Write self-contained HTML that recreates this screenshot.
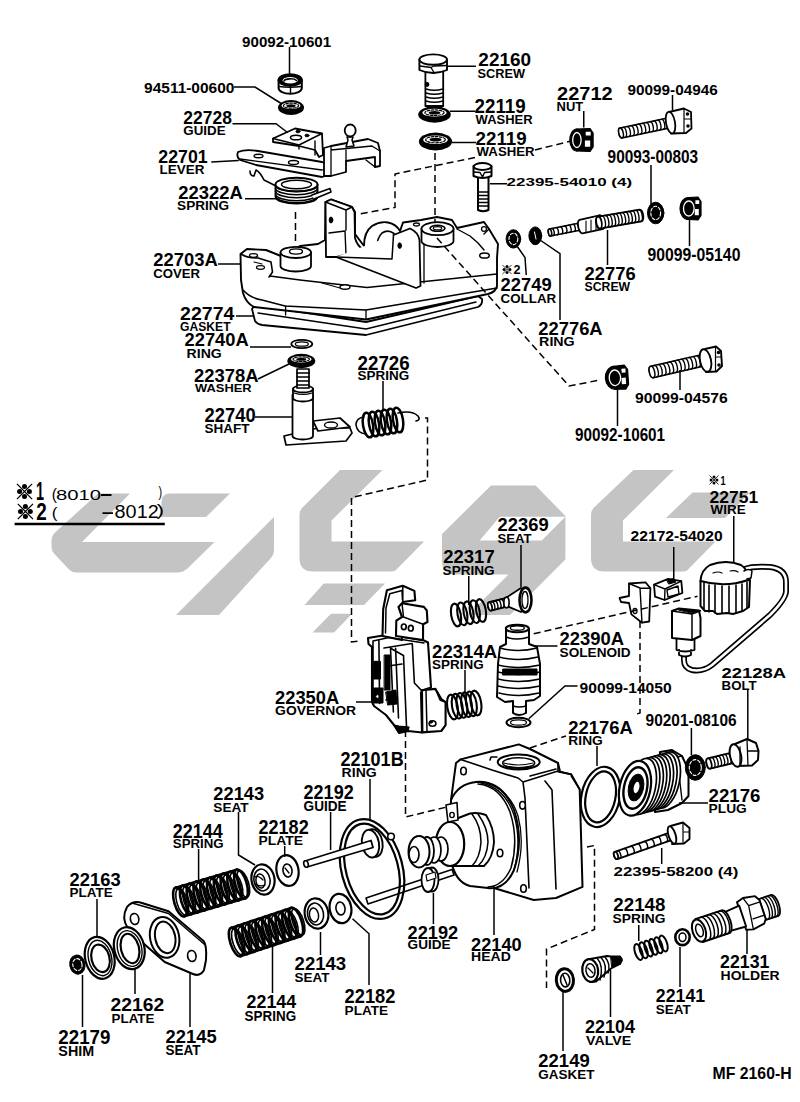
<!DOCTYPE html>
<html><head><meta charset="utf-8"><title>Parts diagram</title>
<style>html,body{margin:0;padding:0;background:#fff;width:800px;height:1102px;overflow:hidden}svg{display:block}</style>
</head><body>
<svg width="800" height="1102" viewBox="0 0 800 1102">
<rect width="800" height="1102" fill="#fff"/>
<g fill="#c4c4c4" stroke="none">
<path d="M98,493.5 L130,493.5 L82,542 L214.5,542 L189,567 Q184,572.5 177,572.5 L76,572.5 Q72,572.5 69,569.5 L54.5,554 Q51.5,551 51.5,547 L51.5,540 Q51.5,536 54.5,533 Z"/>
<path d="M170,493.5 L230,493.5 L206,517 L161.5,517 L161.5,502 Q161.5,493.5 170,493.5 Z"/>
<path d="M274,517 L274,550 Q274,555 270,559 L219,615 L176,615 Z"/>
<path d="M340,470 L382.5,470 L331.5,520.5 L331.5,541.5 L424,541.5 L396,570 Q394,571.5 391,571.5 L313,571.5 Q299.5,571.5 299.5,558 L299.5,514 Q299.5,511 302,508 Z"/>
<path d="M323.75,583.5 L385,583.5 L364,605 L304.5,605 Z"/>
<path d="M331,613.75 L352,613.75 L334,632.5 L312.5,632.5 Z"/>
<path fill-rule="evenodd" d="M491,485.6 L535.6,485.6 L565.4,515.9 L565.4,559.6 L510,615 L468,615 L508.5,574.5 L455,574.5 Q442,574.5 442,561 L442,534 Z M499.75,516.75 L565.4,516.75 L541.75,540.4 L479.6,540.4 Z"/>
<path transform="translate(291.5,0)" d="M342,470 L382.5,470 L331.5,520.5 L331.5,541.5 L424,541.5 L396,570 Q394,571.5 391,571.5 L313,571.5 Q299.5,571.5 299.5,558 L299.5,514 Q299.5,511 302,508 Z"/>
<path d="M692.5,492.5 L750,492.5 L725,518 L666,518 Z"/>
</g>
<g fill="#fff" stroke="#000" stroke-width="1.6" stroke-linejoin="round" stroke-linecap="round">
<path d="M278.6,80 V88 A11.6,5.8 0 0 0 301.8,88 V80" stroke-width="2"/>
<ellipse cx="290.2" cy="80.0" rx="11.6" ry="5.8" fill="#000" stroke-width="2"/>
<ellipse cx="290.2" cy="80.3" rx="7.5" ry="3.2" fill="#fff" stroke="none"/>
<path d="M284,81 A6.5,2.6 0 0 1 296.5,80.5" fill="none" stroke-width="1.6"/>
<path d="M279,86.5 Q290,88 301.5,86.5 M290.5,86 V93" fill="none" stroke-width="1.4"/>
<g><ellipse cx="291.0" cy="107.5" rx="13.0" ry="7.5" fill="#000" stroke="none"/><ellipse cx="291.0" cy="105.7" rx="9.5" ry="3.4" fill="#fff" stroke="none"/><ellipse cx="291.0" cy="105.7" rx="7.6" ry="2.5" fill="none" stroke-width="1.2" stroke-dasharray="2.5,1.5"/><ellipse cx="291.0" cy="105.7" rx="4.6" ry="1.5" fill="#000" stroke="none"/></g>
<path d="M425.4,70 V106 H443.2 V70" stroke-width="1.8"/>
<path d="M426,89 Q434,91.5 443,89 M426,93 Q434,95.5 443,93 M426,97 Q434,99.5 443,97 M426,101 Q434,103.5 443,101" fill="none" stroke-width="1.4"/>
<path d="M419.4,59.6 V70 Q433,76 447,70 V59.6" stroke-width="1.9"/>
<ellipse cx="433.2" cy="59.6" rx="13.8" ry="5.2" stroke-width="1.9"/>
<path d="M420,66 L431,67.5 L434.5,73.5 M431,67.5 L434,66 L447,65.5" fill="none" stroke-width="1.3"/>
<circle cx="427" cy="84.5" r="1.6" fill="#000"/>
<g><ellipse cx="434.5" cy="114.5" rx="16.3" ry="8.3" fill="#000" stroke="none"/><ellipse cx="434.5" cy="112.7" rx="12.1" ry="3.9" fill="#fff" stroke="none"/><ellipse cx="434.5" cy="112.7" rx="9.6" ry="2.8" fill="none" stroke-width="1.2" stroke-dasharray="2.5,1.5"/><ellipse cx="434.5" cy="112.7" rx="5.9" ry="1.8" fill="#000" stroke="none"/></g>
<g><ellipse cx="435.5" cy="141.5" rx="16.6" ry="8.9" fill="#000" stroke="none"/><ellipse cx="435.5" cy="139.7" rx="12.3" ry="4.3" fill="#fff" stroke="none"/><ellipse cx="435.5" cy="139.7" rx="9.8" ry="3.1" fill="none" stroke-width="1.2" stroke-dasharray="2.5,1.5"/><ellipse cx="435.5" cy="139.7" rx="6.0" ry="1.9" fill="#000" stroke="none"/></g>
<g transform="rotate(0 576.6 140.0)"><path d="M576.6,129.0 L590.1,128.5 L593.1,133.0 L593.1,147.0 L590.1,151.5 L576.6,151.0 Z" fill="#000" stroke="#000" stroke-width="1.2"/><ellipse cx="576.6" cy="140.0" rx="6.8" ry="11.0" fill="#000" stroke="#000" stroke-width="1.2"/><ellipse cx="576.9" cy="140.0" rx="4.2" ry="7.5" fill="none" stroke="#fff" stroke-width="1.3"/><path d="M585.7,131.8 h5.0 v3.8 h-5.0 Z M584.9,140.6 h5.3 v6.1 h-5.3 Z" fill="#fff" stroke="none"/></g>
<g transform="translate(621.0,133.0) rotate(-11.86)"><path d="M0,-5.0 L51.1,-5.0 A2.2,5.0 0 0 1 51.1,5.0 L0,5.0 A2.2,5.0 0 0 1 0,-5.0 Z" stroke-width="1.5"/><ellipse cx="0" cy="0" rx="2.2" ry="5.0" stroke-width="1.5"/><path d="M3.2,-5.0 A2.2,5.0 0 0 1 3.2,5.0 M7.2,-5.0 A2.2,5.0 0 0 1 7.2,5.0 M11.1,-5.0 A2.2,5.0 0 0 1 11.1,5.0 M15.0,-5.0 A2.2,5.0 0 0 1 15.0,5.0 M18.9,-5.0 A2.2,5.0 0 0 1 18.9,5.0 M22.8,-5.0 A2.2,5.0 0 0 1 22.8,5.0 M26.7,-5.0 A2.2,5.0 0 0 1 26.7,5.0 M30.6,-5.0 A2.2,5.0 0 0 1 30.6,5.0 M34.5,-5.0 A2.2,5.0 0 0 1 34.5,5.0 M38.4,-5.0 A2.2,5.0 0 0 1 38.4,5.0 M42.3,-5.0 A2.2,5.0 0 0 1 42.3,5.0 M46.2,-5.0 A2.2,5.0 0 0 1 46.2,5.0 M50.1,-5.0 A2.2,5.0 0 0 1 50.1,5.0 " fill="none" stroke-width="1.4"/></g>
<path d="M669,112 L684,108.5 L691,112 L691.5,128.5 L686,133 L671,133.5" stroke-width="1.8"/>
<ellipse cx="670.5" cy="122.6" rx="4.5" ry="11.0" transform="rotate(-10 670.5 122.6)" stroke-width="1.8"/>
<path d="M684,108.7 V133 M684,119 H691" fill="none" stroke-width="1.2"/>
<circle cx="687.5" cy="114" r="1" fill="#000"/><circle cx="688" cy="126" r="1" fill="#000"/>
<path d="M252,309 L255,321 Q257,324 262,325 L366,335 L478,307 Q483,304 482,299 L478,296 L366,322 L255,305 Z" stroke-width="1.8"/>
<path d="M258,313 L366,329 L476,302" fill="none" stroke-width="1.4"/>
<path d="M240.5,254 L247,249 L266,250 L282,256.5 L300,246 L318,244 L325,240 L325.5,202 L331,199.5 L352,207 L355,212 L355,234 L364,246 Q364,232 372,226 Q380,221 388,222.5 Q396,224 400,231 L403,222.5 L421,220 L437,217 L452,220 L457,228 L484,222 L489,229 L498,244 L497,258 L497,286 Q496,292 488,294 L366,319.5 L254,307 Q246,303 243,293 L241,280 Z" stroke-width="1.9"/>
<path d="M241,254 Q247,258 258,258 L271,262 L272.5,272 L269,277 M270,276 L300,280 L335,284 L367,287.5 L497,274" fill="none" stroke-width="1.6"/>
<path d="M243,290 Q250,298 262,300 L285,306 L366,310 L497,288" fill="none" stroke-width="1.6"/>
<path d="M285.6,306 V315 M366,310 V319" fill="none" stroke-width="1.3"/>
<ellipse cx="253.5" cy="255.5" rx="4.0" ry="1.8" stroke-width="1.3"/>
<ellipse cx="260.5" cy="267.5" rx="4.0" ry="1.8" stroke-width="1.3"/>
<path d="M254,262 L262,264" fill="none" stroke-width="1.2"/>
<path d="M325.5,202 L331,199.5 L352,207 L354.5,212 L355,238 Q357,246 364,250 L336,257 L326,257 Z" stroke-width="1.8"/>
<path d="M325.5,202 L346,210 L352,207 M346,210 L346,230 M329,233 L345,231 L346,255" fill="none" stroke-width="1.4"/>
<ellipse cx="331.0" cy="220.0" rx="1.8" ry="3.0" fill="#000" stroke-width="1"/>
<path d="M377,247 Q377,238 382,233 Q388,229 394,233.5" fill="none" stroke-width="1.6"/>
<ellipse cx="416.5" cy="224.5" rx="3.0" ry="1.5" stroke-width="1.3"/>
<path d="M393.5,235 L410,228.5 Q418,232 419.5,240 L420.5,286 L416,288 L336,257" stroke-width="1.8"/>
<path d="M393.5,235 L392,259 L336,257" fill="none" stroke-width="1.5"/>
<ellipse cx="399.7" cy="245.6" rx="1.8" ry="2.8" fill="#000" stroke-width="1"/>
<path d="M424,238 V283" fill="none" stroke-width="1.3"/>
<path d="M280.5,252.4 V266 A15.2,5.5 0 0 0 311,266 V252.4" stroke-width="1.8"/>
<ellipse cx="295.8" cy="252.4" rx="15.2" ry="5.6" stroke-width="1.8"/>
<ellipse cx="296.0" cy="251.5" rx="6.5" ry="2.6" stroke-width="1.4"/>
<path d="M421.5,228.7 V241 A16,6 0 0 0 453.5,241 V228.7" stroke-width="1.8"/>
<ellipse cx="437.5" cy="228.7" rx="16.0" ry="6.5" stroke-width="1.8"/>
<ellipse cx="437.5" cy="228.3" rx="7.5" ry="3.0" stroke-width="1.6"/>
<ellipse cx="437.5" cy="228.3" rx="4.2" ry="1.6" stroke-width="1.2"/>
<path d="M457,229 L470,236 L478,243 L484,250 M489,229 L484,234" fill="none" stroke-width="1.4"/>
<ellipse cx="484.5" cy="255.5" rx="4.8" ry="2.6" stroke-width="1.5"/>
<ellipse cx="484.0" cy="229.0" rx="2.5" ry="2.3" stroke-width="1.3"/>
<ellipse cx="257.5" cy="257.0" rx="0.1" ry="0.1"/>
<ellipse cx="345.0" cy="287.0" rx="5.0" ry="2.2" stroke-width="1.4"/>
<path d="M322,283 L340,288" fill="none" stroke-width="1.2"/>
<ellipse cx="301.8" cy="344.0" rx="10.5" ry="4.2" stroke-width="1.8"/>
<ellipse cx="301.8" cy="344.0" rx="6.5" ry="2.2" stroke-width="1.3"/>
<g><ellipse cx="301.3" cy="361.0" rx="14.0" ry="7.2" fill="#000" stroke="none"/><ellipse cx="301.3" cy="359.2" rx="10.3" ry="3.2" fill="#fff" stroke="none"/><ellipse cx="301.3" cy="359.2" rx="8.2" ry="2.3" fill="none" stroke-width="1.2" stroke-dasharray="2.5,1.5"/><ellipse cx="301.3" cy="359.2" rx="5.0" ry="1.5" fill="#000" stroke="none"/></g>
<path d="M284,436 L286,445 L346,441 L352,433 L350,428 L318,428 Z" stroke-width="1.7"/>
<path d="M313,421 L340,418 L350,427 L318,431 Z" stroke-width="1.7"/>
<ellipse cx="331.0" cy="425.0" rx="6.5" ry="3.0" stroke-width="1.4"/>
<path d="M292.5,395 V436 A10.2,3.5 0 0 0 313,436 V395" stroke-width="1.8"/>
<path d="M293,389 V398 A10,3.5 0 0 0 313,398 V389" stroke-width="1.8"/>
<ellipse cx="303.0" cy="389.0" rx="10.0" ry="3.5" stroke-width="1.8"/>
<path d="M297,369 V388 H309 V369 Z" stroke-width="1.7"/>
<path d="M297,373 H309 M297,377 H309 M297,381 H309 M297,385 H309" fill="none" stroke-width="1.5"/>
<path d="M294,393 Q303,396 312,393" fill="none" stroke-width="1.2"/>
<g transform="translate(368.0,425.0) rotate(-9.46)"><ellipse cx="0.0" cy="0" rx="5.0" ry="12.5" fill="none" stroke-width="2.5"/><ellipse cx="6.1" cy="0" rx="5.0" ry="12.5" fill="none" stroke-width="2.5"/><ellipse cx="12.2" cy="0" rx="5.0" ry="12.5" fill="none" stroke-width="2.5"/><ellipse cx="18.2" cy="0" rx="5.0" ry="12.5" fill="none" stroke-width="2.5"/><ellipse cx="24.3" cy="0" rx="5.0" ry="12.5" fill="none" stroke-width="2.5"/><ellipse cx="30.4" cy="0" rx="5.0" ry="12.5" fill="none" stroke-width="2.5"/></g>
<path d="M398,413 Q412,410 418,416 Q421,420 416,421" fill="none" stroke-width="1.6"/>
<path d="M364,417 Q356,418 356,425 Q357,433 366,434" fill="none" stroke-width="1.6"/>
<path d="M250,171 Q250,176 254,176 L256,170 Q260,172 264,180 L276,186" fill="none" stroke-width="1.6"/>
<path d="M275.5,184.5 V196 A21,6.8 0 0 0 317.5,196 V184.5 Z" fill="#fff" stroke-width="1.8"/>
<path d="M275.5,185 A21,6.8 0 0 0 317.5,185" fill="none" stroke-width="1.6"/>
<path d="M275.5,188 A21,6.8 0 0 0 317.5,188" fill="none" stroke-width="1.6"/>
<path d="M275.5,191 A21,6.8 0 0 0 317.5,191" fill="none" stroke-width="1.6"/>
<path d="M275.5,194 A21,6.8 0 0 0 317.5,194" fill="none" stroke-width="1.6"/>
<path d="M275.5,197 A21,6.8 0 0 0 317.5,197" fill="none" stroke-width="1.6"/>
<ellipse cx="296.5" cy="184.5" rx="21.0" ry="6.8" fill="#fff" stroke-width="1.9"/>
<ellipse cx="296.5" cy="184.5" rx="15.0" ry="4.2" fill="none" stroke-width="1.4"/>
<path d="M312,195 L330,188.5 L331,192 L314,199" stroke-width="1.5"/>
<path d="M238,152 Q236,157 240,160 L256,165 L322,177 L329,175 L329,165 L322,162 L258,151 Q245,149 238,152 Z" stroke-width="1.8"/>
<path d="M240,159 L322,170 L329,168" fill="none" stroke-width="1.3"/>
<ellipse cx="258.5" cy="156.0" rx="4.5" ry="1.8" stroke-width="1.4"/>
<ellipse cx="293.5" cy="162.5" rx="5.0" ry="2.0" stroke-width="1.4"/>
<path d="M324,176 L324,148 L331,146 L368,139 L378,143 L380,151 L380,166 L375,167 L375,157 L346,161 L346,172 L331,176 Z" stroke-width="1.8"/>
<path d="M331,146 L331,176 M331,150 L372,146 L380,151 M346,161 L346,150 M366,160 L375,167" fill="none" stroke-width="1.3"/>
<path d="M346,147 L348,140 L347,137 L353,137 L352,140 L354,146 Z" stroke-width="1.5"/>
<ellipse cx="350.2" cy="130.5" rx="5.5" ry="6.0" stroke-width="1.8"/>
<path d="M273,138.5 L295,128.5 L322,133.5 L323,155 L319,157 L315,150 L299,146 L273,142 Z" stroke-width="1.8"/>
<path d="M273,138.5 L299,145 L322,133.5 M299,145 L299,149 M315,141 L315,155" fill="none" stroke-width="1.4"/>
<ellipse cx="296.0" cy="137.5" rx="5.5" ry="2.3" stroke-width="1.6"/>
<ellipse cx="298.0" cy="131.5" rx="2.0" ry="1.3" fill="#000" stroke-width="1"/>
<ellipse cx="307.0" cy="135.5" rx="2.0" ry="1.3" fill="#000" stroke-width="1"/>
<path d="M478,176 V210 Q483,212.5 488.5,210 V176" stroke-width="2"/>
<path d="M478.5,192 H488 M478.5,195.5 H488 M478.5,199 H488 M478.5,202.5 H488 M478.5,206 H488" fill="none" stroke-width="1.5"/>
<path d="M473.5,166 V176 Q482.5,180 491.5,176 V166" stroke-width="2"/>
<ellipse cx="482.5" cy="166.5" rx="8.8" ry="3.4" stroke-width="2"/>
<path d="M474,172 L480,172.5 L482.5,177 M482.5,177 L484.5,172.5 L491,172" fill="none" stroke-width="1.4"/>
<ellipse cx="655.7" cy="213.0" rx="8.2" ry="10.8" fill="#000" stroke="#000" stroke-width="1"/><ellipse cx="655.7" cy="213.0" rx="4.9" ry="6.7" fill="none" stroke="#fff" stroke-width="1.1" stroke-dasharray="3,2"/>
<g transform="rotate(0 688.5 208.5)"><path d="M688.5,197.5 L698.0,197.0 L701.0,201.5 L701.0,215.5 L698.0,220.0 L688.5,219.5 Z" fill="#000" stroke="#000" stroke-width="1.2"/><ellipse cx="688.5" cy="208.5" rx="8.5" ry="11.0" fill="#000" stroke="#000" stroke-width="1.2"/><ellipse cx="688.8" cy="208.5" rx="5.3" ry="7.5" fill="none" stroke="#fff" stroke-width="1.3"/><path d="M695.4,200.2 h3.8 v3.8 h-3.8 Z M694.8,209.1 h4.0 v6.1 h-4.0 Z" fill="#fff" stroke="none"/></g>
<ellipse cx="513.4" cy="238.9" rx="7.3" ry="9.2" fill="#000" stroke="#000" stroke-width="1"/><ellipse cx="513.4" cy="238.9" rx="4.4" ry="5.7" fill="none" stroke="#fff" stroke-width="1.1" stroke-dasharray="3,2"/>
<ellipse cx="535.3" cy="235.8" rx="6.4" ry="8.9" fill="#000" stroke="#000" stroke-width="1"/>
<path d="M534.5,232 L536,239" fill="none" stroke="#fff" stroke-width="1"/>
<g transform="translate(550.0,232.5) rotate(-11.14)"><path d="M0,-3.6 L33.6,-3.6 A1.6,3.6 0 0 1 33.6,3.6 L0,3.6 A1.6,3.6 0 0 1 0,-3.6 Z" stroke-width="1.6"/><ellipse cx="0" cy="0" rx="1.6" ry="3.6" stroke-width="1.6"/><path d="M2.6,-3.6 A1.6,3.6 0 0 1 2.6,3.6 M6.9,-3.6 A1.6,3.6 0 0 1 6.9,3.6 M11.2,-3.6 A1.6,3.6 0 0 1 11.2,3.6 M15.5,-3.6 A1.6,3.6 0 0 1 15.5,3.6 M19.8,-3.6 A1.6,3.6 0 0 1 19.8,3.6 M24.1,-3.6 A1.6,3.6 0 0 1 24.1,3.6 M28.3,-3.6 A1.6,3.6 0 0 1 28.3,3.6 M32.6,-3.6 A1.6,3.6 0 0 1 32.6,3.6 " fill="none" stroke-width="1.4"/></g>
<g transform="translate(581.0,226.6) rotate(-12.13)"><path d="M0,-7.0 L20.457028132160346,-7.0 A2.8000000000000003,7.0 0 0 1 20.457028132160346,7.0 L0,7.0 A2.8000000000000003,7.0 0 0 1 0,-7.0 Z" stroke-width="1.8" fill="#fff"/><ellipse cx="20.457028132160346" cy="0" rx="2.8000000000000003" ry="7.0" stroke-width="1.8" fill="#fff"/></g>
<g transform="translate(599.0,222.6) rotate(-9.71)"><path d="M0,-6.0 L42.1,-6.0 A2.7,6.0 0 0 1 42.1,6.0 L0,6.0 A2.7,6.0 0 0 1 0,-6.0 Z" stroke-width="1.8"/><ellipse cx="0" cy="0" rx="2.7" ry="6.0" stroke-width="1.8"/><path d="M3.7,-6.0 A2.7,6.0 0 0 1 3.7,6.0 M7.1,-6.0 A2.7,6.0 0 0 1 7.1,6.0 M10.5,-6.0 A2.7,6.0 0 0 1 10.5,6.0 M13.9,-6.0 A2.7,6.0 0 0 1 13.9,6.0 M17.3,-6.0 A2.7,6.0 0 0 1 17.3,6.0 M20.7,-6.0 A2.7,6.0 0 0 1 20.7,6.0 M24.1,-6.0 A2.7,6.0 0 0 1 24.1,6.0 M27.5,-6.0 A2.7,6.0 0 0 1 27.5,6.0 M30.9,-6.0 A2.7,6.0 0 0 1 30.9,6.0 M34.3,-6.0 A2.7,6.0 0 0 1 34.3,6.0 M37.7,-6.0 A2.7,6.0 0 0 1 37.7,6.0 M41.1,-6.0 A2.7,6.0 0 0 1 41.1,6.0 " fill="none" stroke-width="1.4"/></g>
<path d="M586,221 V232 M591,220 V231 M596,219 V230" fill="none" stroke-width="1.1"/>
<g transform="rotate(-4 614.6 377.8)"><path d="M614.6,366.3 L625.1,365.8 L628.1,370.3 L628.1,385.3 L625.1,389.8 L614.6,389.3 Z" fill="#000" stroke="#000" stroke-width="1.2"/><ellipse cx="614.6" cy="377.8" rx="9.2" ry="11.5" fill="#000" stroke="#000" stroke-width="1.2"/><ellipse cx="614.9" cy="377.8" rx="5.7" ry="7.8" fill="none" stroke="#fff" stroke-width="1.3"/><path d="M622.0,369.2 h4.0 v4.0 h-4.0 Z M621.4,378.4 h4.3 v6.3 h-4.3 Z" fill="#fff" stroke="none"/></g>
<g transform="translate(652.0,372.0) rotate(-13.03)"><path d="M0,-5.8 L55.4,-5.8 A2.6,5.8 0 0 1 55.4,5.8 L0,5.8 A2.6,5.8 0 0 1 0,-5.8 Z" stroke-width="1.5"/><ellipse cx="0" cy="0" rx="2.6" ry="5.8" stroke-width="1.5"/><path d="M3.6,-5.8 A2.6,5.8 0 0 1 3.6,5.8 M7.5,-5.8 A2.6,5.8 0 0 1 7.5,5.8 M11.4,-5.8 A2.6,5.8 0 0 1 11.4,5.8 M15.3,-5.8 A2.6,5.8 0 0 1 15.3,5.8 M19.2,-5.8 A2.6,5.8 0 0 1 19.2,5.8 M23.2,-5.8 A2.6,5.8 0 0 1 23.2,5.8 M27.1,-5.8 A2.6,5.8 0 0 1 27.1,5.8 M31.0,-5.8 A2.6,5.8 0 0 1 31.0,5.8 M34.9,-5.8 A2.6,5.8 0 0 1 34.9,5.8 M38.8,-5.8 A2.6,5.8 0 0 1 38.8,5.8 M42.7,-5.8 A2.6,5.8 0 0 1 42.7,5.8 M46.6,-5.8 A2.6,5.8 0 0 1 46.6,5.8 M50.5,-5.8 A2.6,5.8 0 0 1 50.5,5.8 M54.4,-5.8 A2.6,5.8 0 0 1 54.4,5.8 " fill="none" stroke-width="1.4"/></g>
<path d="M705,349 L716,346.5 L721,351 L722,366 L716.5,371.5 L706,372" stroke-width="1.9"/>
<ellipse cx="705.5" cy="360.5" rx="5.5" ry="11.5" transform="rotate(-12 705.5 360.5)" stroke-width="1.9"/>
<path d="M715.5,346.8 V371.5 M715.5,357 H721.5" fill="none" stroke-width="1.2"/>
<circle cx="718.5" cy="352.5" r="1" fill="#000"/><circle cx="719" cy="365" r="1" fill="#000"/>
<path d="M368,638 L389,634.5 L424,640.5 L428,642.5 L431,687.5 L422,690.5 L421,693 L422,732.5 L408,731 L399,733 L394,725 L386,715 L374,706 L372,702 L372,647 L368.5,644 Z" stroke-width="2.1"/>
<path d="M422,690.3 L435.5,688.9 L441.3,699 L445.6,702 L445.6,725.2 L441.3,731 L422.4,732.4 Z" stroke-width="2.1"/>
<path d="M426,691 L427,731 M435.5,689 L440,700 L445,702" fill="none" stroke-width="1.5"/>
<ellipse cx="432.5" cy="723.5" rx="3.4" ry="2.8" stroke-width="1.6"/>
<ellipse cx="431.0" cy="722.0" rx="1.5" ry="1.2" fill="#000" stroke-width="0.8"/>
<path d="M386.9,590.2 L402.8,585.8 L414.4,590.9 L415.2,600.3 L402.8,602 L402,640 L382.5,636 L383.2,609 Z" stroke-width="2.1"/>
<path d="M389.8,593.8 L402,590.5 L402.5,600 M389.8,593.8 L386,608 L385.5,633 M402.8,586 L402.8,602" fill="none" stroke-width="1.5"/>
<path d="M398.5,606.9 L402,603.2 L423.9,606.9 L426.8,610.5 L427.5,622 L423.1,624.3 L423,640 L396,636 L396.3,620.6 L402,617 Z" stroke-width="2.1"/>
<path d="M402,603.2 L403.5,617 L423.1,624.3 M398.5,606.9 L402,617" fill="none" stroke-width="1.5"/>
<ellipse cx="403.8" cy="626.8" rx="2.4" ry="2.8" stroke-width="1.7"/>
<ellipse cx="410.8" cy="628.2" rx="2.4" ry="2.8" stroke-width="1.7"/>
<path d="M373,641 L373,702 M378.9,641 L379.6,703.4 M390.5,648.2 L393.4,712 M395.6,648.2 L398.5,718 M403.5,655.5 L406.5,726.6 M412.3,643.9 L414.4,683 L421,690 M373,641 L389,637.5 L424,643 M384,648 L412,643.5 M390.5,648.2 L403.5,655.5 M388,666 L402,664 M386,700 L398,699" fill="none" stroke-width="1.6"/>
<path d="M373.8,661.3 H380.5 V679 H373.8 Z M384.5,655 H390 V690 H384.5 Z M374,688 H383 V703 H374 Z M386,692 L396,690 L397,704 L388,705 Z" fill="#000" stroke-width="1"/>
<ellipse cx="377.5" cy="696.5" rx="1.8" ry="1.8" fill="#fff" stroke-width="1"/>
<path d="M394,725 L399,733 L408,731 L409,727 L399,726 Z" fill="#000" stroke-width="1.2"/>
<g transform="translate(456.0,615.0) rotate(-10.20)"><ellipse cx="0.0" cy="0" rx="4.8" ry="11.5" fill="none" stroke-width="2.1"/><ellipse cx="6.4" cy="0" rx="4.8" ry="11.5" fill="none" stroke-width="2.1"/><ellipse cx="12.7" cy="0" rx="4.8" ry="11.5" fill="none" stroke-width="2.1"/><ellipse cx="19.1" cy="0" rx="4.8" ry="11.5" fill="none" stroke-width="2.1"/><ellipse cx="25.4" cy="0" rx="4.8" ry="11.5" fill="none" stroke-width="2.1"/></g>
<path d="M490,602 L505,598.5 L521,588 L529,600 L521,612 L507,606 L491,610 Z" stroke-width="1.8"/>
<ellipse cx="525.5" cy="600.0" rx="6.0" ry="12.4" stroke-width="2.6"/>
<ellipse cx="525.0" cy="600.0" rx="3.0" ry="8.5" stroke-width="1.3"/>
<g transform="translate(490.0,606.5) rotate(-14.04)"><path d="M0,-4.2 L16.5,-4.2 A1.9,4.2 0 0 1 16.5,4.2 L0,4.2 A1.9,4.2 0 0 1 0,-4.2 Z" stroke-width="1.8"/><ellipse cx="0" cy="0" rx="1.9" ry="4.2" stroke-width="1.8"/><path d="M2.9,-4.2 A1.9,4.2 0 0 1 2.9,4.2 M6.0,-4.2 A1.9,4.2 0 0 1 6.0,4.2 M9.2,-4.2 A1.9,4.2 0 0 1 9.2,4.2 M12.3,-4.2 A1.9,4.2 0 0 1 12.3,4.2 M15.5,-4.2 A1.9,4.2 0 0 1 15.5,4.2 " fill="none" stroke-width="1.4"/></g>
<ellipse cx="506.5" cy="602.5" rx="2.6" ry="5.4" stroke-width="1.6"/>
<g transform="translate(452.5,707.0) rotate(-9.66)"><ellipse cx="0.0" cy="0" rx="5.2" ry="12.5" fill="none" stroke-width="2.1"/><ellipse cx="4.8" cy="0" rx="5.2" ry="12.5" fill="none" stroke-width="2.1"/><ellipse cx="9.5" cy="0" rx="5.2" ry="12.5" fill="none" stroke-width="2.1"/><ellipse cx="14.3" cy="0" rx="5.2" ry="12.5" fill="none" stroke-width="2.1"/><ellipse cx="19.1" cy="0" rx="5.2" ry="12.5" fill="none" stroke-width="2.1"/><ellipse cx="23.8" cy="0" rx="5.2" ry="12.5" fill="none" stroke-width="2.1"/></g>
<path d="M506,629 V644 L500,647 L498,664 L497,697 L505,702 L513,701 L513,713 Q519,717 526,713 V701 L534,700 L540,696 L540,664 L537,647 L529,644 V629" stroke-width="2"/>
<ellipse cx="517.3" cy="628.5" rx="11.5" ry="3.8" stroke-width="2"/>
<ellipse cx="517.3" cy="628.0" rx="7.0" ry="2.2" stroke-width="1.4"/>
<path d="M506,637 Q517,641 529,637 M500,648 Q518,653 537,648 M499,657 Q518,662 538,657 M498,665 Q518,670 540,665 M498,672 Q518,677 540,672 M498,679 Q518,684 540,679 M498,686 Q518,691 540,686 M499,693 Q518,698 539,693 M513,706 Q519,708 526,706" fill="none" stroke-width="1.5"/>
<path d="M503,669 H537 V675 H503 Z" fill="#000" stroke-width="1"/>
<ellipse cx="518.5" cy="722.5" rx="12.0" ry="4.8" stroke-width="2"/>
<ellipse cx="518.5" cy="722.5" rx="8.0" ry="2.6" stroke-width="1.2"/>
<path d="M745,569 Q752,566 770,567 Q786,569 786,582 L786,592 Q785,600 770,615 L712,665 Q703,672 692,670 Q684,668 684,660 L684,652" fill="none" stroke-width="6" stroke="#000"/>
<path d="M745,569 Q752,566 770,567 Q786,569 786,582 L786,592 Q785,600 770,615 L712,665 Q703,672 692,670 Q684,668 684,660 L684,652" fill="none" stroke-width="2.6" stroke="#fff"/>
<path d="M700.5,581 L700.5,606 L705,611 L713,611 L717,614 L727,613 L733,614 L743,611 L749,607 L750,580 Z" stroke-width="2"/>
<path d="M704,583 V609 M709,585 V612 M715,585 V613 M722,586 V613 M729,586 V613 M736,585 V613 M742,584 V611 M747,582 V608" fill="none" stroke-width="1.6"/>
<path d="M700.5,581 Q701,570 710,565 Q726,559 741,565 Q749,570 748,580 Q725,588 700.5,581 Z" stroke-width="2"/>
<path d="M713,573 Q718,571 722,573 M730,571 Q735,570 738,572" fill="none" stroke-width="1.2"/>
<path d="M744,571 Q749,568 752,571 L751,578 L747,579" stroke-width="1.5"/>
<path d="M676.5,638 V650 Q685,653 694.5,650 V638 Z M679,650 V655 Q685,658 691,655 V650" stroke-width="1.8"/>
<path d="M672,611 L679,608.5 L699,610.5 L700.5,618 L700.5,636 L692,640 L672,638 Z" stroke-width="2"/>
<path d="M672,611 L692,614 L700.5,610.8 M692,614 V640" fill="none" stroke-width="1.5"/>
<path d="M679,610 L683,609 L697,611 L692,613 Z" fill="#000" stroke-width="1"/>
<path d="M629,583.5 L645.5,582.3 L650.4,588.3 L649.2,621.5 L642,622.7 L631.4,614.4 L629,603 L621,602 L619.5,598 L629,596 Z" stroke-width="1.8"/>
<path d="M629,583.5 L640,588 L642,622.7 M640,588 L650.4,588.3" fill="none" stroke-width="1.4"/>
<ellipse cx="635.0" cy="611.0" rx="2.0" ry="2.5" stroke-width="1.3"/>
<path d="M654,584.7 L668.2,578.8 L681.3,581.1 L682.4,593 L664.6,600 L655,596.6 Z" stroke-width="1.8"/>
<path d="M654,584.7 L665,589 L681.3,581.1 M665,589 L664.6,600 M667,590 L678,586 L679,594 L668,597 Z" fill="none" stroke-width="1.4"/>
<path d="M667,580 L673,578.8 L676,582 L669,584 Z" fill="#000" stroke-width="1"/>
<path d="M456,763 L460.6,759.4 L518.7,744.4 L530,749 L558,763 L560,771.6 L571.3,774.4 L579.7,789.4 L582.5,886.9 L556,898 L533.7,900 L490.6,887 L470,875 L452,850 L451.2,798.7 Z" stroke-width="2"/>
<path d="M460.6,759.4 L492,770 L518,778 L523,782 L558,771 L558,763 M523,782 L525,798 M530,776 L556,769 M558,771.6 L571.3,774.4 M525,798 L529,888 M545,781 L552,790 L556,889 M571.3,776 L579.7,789.4 M490,760 L491,757 L497,757" fill="none" stroke-width="1.6"/>
<ellipse cx="518.7" cy="762.0" rx="21.0" ry="7.5" stroke-width="2"/>
<ellipse cx="518.7" cy="763.0" rx="16.0" ry="5.2" stroke-width="1.5"/>
<path d="M504,763 Q518,767 533,763 M506,766 Q518,769 531,766" fill="none" stroke-width="1.2"/>
<ellipse cx="463.5" cy="771.0" rx="2.8" ry="3.8" stroke-width="1.6"/>
<ellipse cx="522.5" cy="805.3" rx="2.8" ry="3.8" stroke-width="1.6"/>
<ellipse cx="523.5" cy="888.5" rx="2.8" ry="3.8" stroke-width="1.6"/>
<path d="M476,782 Q502,780 514,810 Q524,840 514,870 Q505,890 488,888 L470,886 Q455,882 451,860 L451,800 Q458,784 476,782 Z" stroke-width="2"/>
<path d="M478,784 Q500,786 510,812 Q519,840 511,868 Q503,886 488,887" fill="none" stroke-width="1.5"/>
<path d="M481,783 Q505,788 514,815 Q522,842 514,870" fill="none" stroke-width="1.4"/>
<path d="M486,783 Q510,790 518,816 Q525,842 517,872" fill="none" stroke-width="1.3"/>
<ellipse cx="500.0" cy="853.0" rx="2.8" ry="3.8" stroke-width="1.6"/>
<path d="M448,822 L470,813.5 Q478,812 486,815 Q494,828 494,842 Q493,858 484,866 L452,866 Z" stroke-width="1.9"/>
<path d="M472,814 Q481,826 481,842 Q480,858 472,866 M478,814 Q488,828 488,842 Q487,858 478,866" fill="none" stroke-width="1.5"/>
<ellipse cx="450.0" cy="844.0" rx="14.2" ry="22.0" stroke-width="2.2"/>
<ellipse cx="441.0" cy="849.0" rx="7.0" ry="12.0" stroke-width="1.7"/>
<ellipse cx="434.0" cy="850.0" rx="7.0" ry="13.0" stroke-width="1.7"/>
<ellipse cx="427.0" cy="851.0" rx="7.0" ry="14.0" stroke-width="1.8"/>
<ellipse cx="419.0" cy="851.7" rx="10.5" ry="15.7" stroke-width="2"/>
<ellipse cx="414.0" cy="854.5" rx="5.0" ry="8.0" stroke-width="1.7"/>
<path d="M446,805 L457,802.5 L458,820 L448,822 Z" stroke-width="1.6"/>
<ellipse cx="452.0" cy="815.0" rx="2.2" ry="2.6" stroke-width="1.4"/>
<path d="M366,898 L452,869.5 L454,875 L368,904 Z" stroke-width="1.6"/>
<ellipse cx="432.0" cy="879.5" rx="6.5" ry="12.0" stroke-width="1.8"/>
<ellipse cx="428.0" cy="880.0" rx="6.5" ry="12.0" stroke-width="1.8"/>
<path d="M426,875 L435,872 L436,878 L427,881 Z" fill="#fff" stroke-width="1.2"/>
<ellipse cx="600.6" cy="796.9" rx="19.2" ry="30.5" transform="rotate(12 600.6 796.9)" fill="none" stroke-width="2.2"/>
<ellipse cx="600.6" cy="796.9" rx="14.8" ry="25.8" transform="rotate(12 600.6 796.9)" fill="none" stroke-width="2.2"/>
<path d="M660,752 L672,750 L682,756 L688.5,770 L688.5,796 L682,803 L668,810 L655,812 Z" stroke-width="2"/>
<path d="M672,750.5 L677,757 L682,800 M682,756 L677,757" fill="none" stroke-width="1.4"/>
<ellipse cx="666.0" cy="780.0" rx="13.5" ry="28.5" transform="rotate(12 666.0 780.0)" fill="#fff" stroke-width="1.7"/>
<ellipse cx="662.6" cy="780.9" rx="13.5" ry="28.5" transform="rotate(12 662.6 780.9)" fill="#fff" stroke-width="1.7"/>
<ellipse cx="659.1" cy="781.9" rx="13.5" ry="28.5" transform="rotate(12 659.1 781.9)" fill="#fff" stroke-width="1.7"/>
<ellipse cx="655.7" cy="782.8" rx="13.5" ry="28.5" transform="rotate(12 655.7 782.8)" fill="#fff" stroke-width="1.7"/>
<ellipse cx="652.3" cy="783.7" rx="13.5" ry="28.5" transform="rotate(12 652.3 783.7)" fill="#fff" stroke-width="1.7"/>
<ellipse cx="648.9" cy="784.6" rx="13.5" ry="28.5" transform="rotate(12 648.9 784.6)" fill="#fff" stroke-width="1.7"/>
<ellipse cx="645.4" cy="785.6" rx="13.5" ry="28.5" transform="rotate(12 645.4 785.6)" fill="#fff" stroke-width="1.7"/>
<ellipse cx="642.0" cy="786.5" rx="13.5" ry="28.5" transform="rotate(12 642.0 786.5)" fill="#fff" stroke-width="1.7"/>
<ellipse cx="635.0" cy="788.3" rx="15.4" ry="27.8" transform="rotate(12 635.0 788.3)" stroke-width="2.2"/>
<ellipse cx="635.5" cy="788.0" rx="11.5" ry="21.0" transform="rotate(12 635.5 788.0)" fill="none" stroke-width="2.4"/>
<ellipse cx="636.0" cy="787.5" rx="7.5" ry="13.5" transform="rotate(12 636.0 787.5)" fill="#000" stroke-width="1"/>
<ellipse cx="636.5" cy="787.5" rx="3.5" ry="6.5" transform="rotate(12 636.5 787.5)" fill="#fff" stroke-width="1.4"/>
<ellipse cx="695.3" cy="767.5" rx="10.0" ry="12.8" fill="#000" stroke="#000" stroke-width="1"/><ellipse cx="695.3" cy="767.5" rx="6.0" ry="7.9" fill="none" stroke="#fff" stroke-width="1.1" stroke-dasharray="3,2"/>
<g transform="translate(709.0,763.5) rotate(-13.54)"><path d="M0,-5.3 L27.8,-5.3 A2.4,5.3 0 0 1 27.8,5.3 L0,5.3 A2.4,5.3 0 0 1 0,-5.3 Z" stroke-width="1.8"/><ellipse cx="0" cy="0" rx="2.4" ry="5.3" stroke-width="1.8"/><path d="M3.4,-5.3 A2.4,5.3 0 0 1 3.4,5.3 M6.7,-5.3 A2.4,5.3 0 0 1 6.7,5.3 M10.1,-5.3 A2.4,5.3 0 0 1 10.1,5.3 M13.4,-5.3 A2.4,5.3 0 0 1 13.4,5.3 M16.7,-5.3 A2.4,5.3 0 0 1 16.7,5.3 M20.1,-5.3 A2.4,5.3 0 0 1 20.1,5.3 M23.4,-5.3 A2.4,5.3 0 0 1 23.4,5.3 M26.8,-5.3 A2.4,5.3 0 0 1 26.8,5.3 " fill="none" stroke-width="1.4"/></g>
<path d="M735,744 L747,739 L756,743 L758.5,751 L758,760 L752,765.5 L737,766" stroke-width="2"/>
<ellipse cx="735.5" cy="755.5" rx="5.5" ry="11.5" transform="rotate(-12 735.5 755.5)" stroke-width="2"/>
<path d="M747,739.5 L748,765.5 M740,747 V764 M748,751 L758.5,751" fill="none" stroke-width="1.3"/>
<g transform="translate(616.0,855.5) rotate(-19.33)"><path d="M0,-3.8 L60.4,-3.8 A1.9,3.8 0 0 1 60.4,3.8 L0,3.8 A1.9,3.8 0 0 1 0,-3.8 Z" stroke-width="1.8"/><ellipse cx="0" cy="0" rx="1.9" ry="3.8" stroke-width="1.8"/><path d="M2.9,-3.8 A1.9,3.8 0 0 1 2.9,3.8 M10.0,-3.8 A1.9,3.8 0 0 1 10.0,3.8 M17.0,-3.8 A1.9,3.8 0 0 1 17.0,3.8 M24.1,-3.8 A1.9,3.8 0 0 1 24.1,3.8 M31.2,-3.8 A1.9,3.8 0 0 1 31.2,3.8 M38.2,-3.8 A1.9,3.8 0 0 1 38.2,3.8 M45.3,-3.8 A1.9,3.8 0 0 1 45.3,3.8 M52.3,-3.8 A1.9,3.8 0 0 1 52.3,3.8 M59.4,-3.8 A1.9,3.8 0 0 1 59.4,3.8 " fill="none" stroke-width="1.4"/></g>
<path d="M670.5,826 L683,822.5 L689.5,828 L689.5,839 L684,843.5 L672,844" stroke-width="1.9"/>
<ellipse cx="672.0" cy="835.0" rx="3.5" ry="9.0" transform="rotate(-18 672.0 835.0)" stroke-width="1.9"/>
<path d="M683,823 V843.5 M683,832 H689.5" fill="none" stroke-width="1.2"/>
<ellipse cx="372.0" cy="869.0" rx="30.5" ry="51.0" transform="rotate(-15 372.0 869.0)" fill="none" stroke-width="2.2"/>
<ellipse cx="372.0" cy="869.0" rx="26.0" ry="46.5" transform="rotate(-15 372.0 869.0)" fill="none" stroke-width="2.2"/>
<circle cx="391" cy="836.5" r="3.3" fill="#fff" stroke-width="1.6"/>
<ellipse cx="374.0" cy="843.0" rx="8.5" ry="14.0" transform="rotate(-10 374.0 843.0)" stroke-width="1.9"/>
<ellipse cx="370.5" cy="843.7" rx="8.5" ry="14.0" transform="rotate(-10 370.5 843.7)" stroke-width="1.9"/>
<path d="M305,861 L371,840.5 L373,847.5 L307,867 Z" stroke-width="1.8"/>
<ellipse cx="306.0" cy="864.0" rx="2.2" ry="3.3" transform="rotate(-15 306.0 864.0)" stroke-width="1.6"/>
<ellipse cx="263.0" cy="879.5" rx="11.5" ry="15.2" transform="rotate(-10 263.0 879.5)" stroke-width="2.2"/>
<ellipse cx="262.0" cy="880.0" rx="8.0" ry="11.0" transform="rotate(-10 262.0 880.0)" stroke-width="1.6"/>
<ellipse cx="260.5" cy="881.0" rx="4.5" ry="7.0" transform="rotate(-10 260.5 881.0)" stroke-width="1.5"/>
<path d="M255,877 Q258,875 263,880 M255,884 Q260,887 265,885" fill="none" stroke-width="1.3"/>
<ellipse cx="287.5" cy="870.5" rx="11.0" ry="15.5" transform="rotate(-10 287.5 870.5)" stroke-width="2.2"/>
<ellipse cx="287.5" cy="870.5" rx="4.5" ry="6.5" transform="rotate(-10 287.5 870.5)" stroke-width="1.6"/>
<path d="M285,868 L289,873" fill="none" stroke-width="1.3"/>
<ellipse cx="316.5" cy="913.5" rx="11.8" ry="15.2" transform="rotate(-10 316.5 913.5)" stroke-width="2.2"/>
<ellipse cx="315.5" cy="914.0" rx="8.0" ry="11.0" transform="rotate(-10 315.5 914.0)" stroke-width="1.6"/>
<ellipse cx="314.0" cy="915.0" rx="4.5" ry="7.0" transform="rotate(-10 314.0 915.0)" stroke-width="1.5"/>
<ellipse cx="340.5" cy="908.5" rx="10.8" ry="14.8" transform="rotate(-10 340.5 908.5)" stroke-width="2.2"/>
<ellipse cx="340.5" cy="908.5" rx="4.5" ry="6.5" transform="rotate(-10 340.5 908.5)" stroke-width="1.6"/>
<g transform="translate(180.0,902.0) rotate(-16.44)"><path d="M0,-15 L63.6,-15 L63.6,15 L0,15 Z" fill="#fff" stroke="none"/><ellipse cx="0.0" cy="0" rx="5.7" ry="15" fill="none" stroke-width="2.6"/><ellipse cx="2.2" cy="0.5" rx="5.4" ry="13.8" fill="none" stroke-width="1.6"/><ellipse cx="7.1" cy="0" rx="5.7" ry="15" fill="none" stroke-width="2.6"/><ellipse cx="9.3" cy="0.5" rx="5.4" ry="13.8" fill="none" stroke-width="1.6"/><ellipse cx="14.1" cy="0" rx="5.7" ry="15" fill="none" stroke-width="2.6"/><ellipse cx="16.3" cy="0.5" rx="5.4" ry="13.8" fill="none" stroke-width="1.6"/><ellipse cx="21.2" cy="0" rx="5.7" ry="15" fill="none" stroke-width="2.6"/><ellipse cx="23.4" cy="0.5" rx="5.4" ry="13.8" fill="none" stroke-width="1.6"/><ellipse cx="28.3" cy="0" rx="5.7" ry="15" fill="none" stroke-width="2.6"/><ellipse cx="30.5" cy="0.5" rx="5.4" ry="13.8" fill="none" stroke-width="1.6"/><ellipse cx="35.3" cy="0" rx="5.7" ry="15" fill="none" stroke-width="2.6"/><ellipse cx="37.5" cy="0.5" rx="5.4" ry="13.8" fill="none" stroke-width="1.6"/><ellipse cx="42.4" cy="0" rx="5.7" ry="15" fill="none" stroke-width="2.6"/><ellipse cx="44.6" cy="0.5" rx="5.4" ry="13.8" fill="none" stroke-width="1.6"/><ellipse cx="49.5" cy="0" rx="5.7" ry="15" fill="none" stroke-width="2.6"/><ellipse cx="51.7" cy="0.5" rx="5.4" ry="13.8" fill="none" stroke-width="1.6"/><ellipse cx="56.5" cy="0" rx="5.7" ry="15" fill="none" stroke-width="2.6"/><ellipse cx="58.7" cy="0.5" rx="5.4" ry="13.8" fill="none" stroke-width="1.6"/><ellipse cx="63.6" cy="0" rx="5.7" ry="15" fill="none" stroke-width="2.6"/><ellipse cx="65.8" cy="0.5" rx="5.4" ry="13.8" fill="none" stroke-width="1.6"/><path d="M0,-15 L63.6,-15 M0,15 L63.6,15" fill="none" stroke-width="2.4"/></g>
<g transform="translate(236.0,942.0) rotate(-18.43)"><path d="M0,-15 L63.2,-15 L63.2,15 L0,15 Z" fill="#fff" stroke="none"/><ellipse cx="0.0" cy="0" rx="5.7" ry="15" fill="none" stroke-width="2.6"/><ellipse cx="2.2" cy="0.5" rx="5.4" ry="13.8" fill="none" stroke-width="1.6"/><ellipse cx="7.0" cy="0" rx="5.7" ry="15" fill="none" stroke-width="2.6"/><ellipse cx="9.2" cy="0.5" rx="5.4" ry="13.8" fill="none" stroke-width="1.6"/><ellipse cx="14.1" cy="0" rx="5.7" ry="15" fill="none" stroke-width="2.6"/><ellipse cx="16.3" cy="0.5" rx="5.4" ry="13.8" fill="none" stroke-width="1.6"/><ellipse cx="21.1" cy="0" rx="5.7" ry="15" fill="none" stroke-width="2.6"/><ellipse cx="23.3" cy="0.5" rx="5.4" ry="13.8" fill="none" stroke-width="1.6"/><ellipse cx="28.1" cy="0" rx="5.7" ry="15" fill="none" stroke-width="2.6"/><ellipse cx="30.3" cy="0.5" rx="5.4" ry="13.8" fill="none" stroke-width="1.6"/><ellipse cx="35.1" cy="0" rx="5.7" ry="15" fill="none" stroke-width="2.6"/><ellipse cx="37.3" cy="0.5" rx="5.4" ry="13.8" fill="none" stroke-width="1.6"/><ellipse cx="42.2" cy="0" rx="5.7" ry="15" fill="none" stroke-width="2.6"/><ellipse cx="44.4" cy="0.5" rx="5.4" ry="13.8" fill="none" stroke-width="1.6"/><ellipse cx="49.2" cy="0" rx="5.7" ry="15" fill="none" stroke-width="2.6"/><ellipse cx="51.4" cy="0.5" rx="5.4" ry="13.8" fill="none" stroke-width="1.6"/><ellipse cx="56.2" cy="0" rx="5.7" ry="15" fill="none" stroke-width="2.6"/><ellipse cx="58.4" cy="0.5" rx="5.4" ry="13.8" fill="none" stroke-width="1.6"/><ellipse cx="63.2" cy="0" rx="5.7" ry="15" fill="none" stroke-width="2.6"/><ellipse cx="65.4" cy="0.5" rx="5.4" ry="13.8" fill="none" stroke-width="1.6"/><path d="M0,-15 L63.2,-15 M0,15 L63.2,15" fill="none" stroke-width="2.4"/></g>
<path d="M127,907 Q133,900 142,903 L168.5,911.3 L203.5,941 Q207,945 206,960 L204,970 Q200,977 193,974 L164.7,962 L143,943 L127.8,928 Q121,918 127,907 Z" stroke-width="2"/>
<path d="M132,903 L168.5,913.5 L204,944" fill="none" stroke-width="1.4"/>
<ellipse cx="134.6" cy="919.0" rx="4.2" ry="5.5" transform="rotate(-10 134.6 919.0)" stroke-width="1.7"/>
<ellipse cx="191.8" cy="956.0" rx="4.2" ry="5.5" transform="rotate(-10 191.8 956.0)" stroke-width="1.7"/>
<ellipse cx="164.6" cy="937.4" rx="14.5" ry="20.5" transform="rotate(-12 164.6 937.4)" stroke-width="2"/>
<ellipse cx="165.2" cy="937.4" rx="10.0" ry="16.0" transform="rotate(-12 165.2 937.4)" stroke-width="2"/>
<ellipse cx="129.3" cy="948.2" rx="15.0" ry="21.3" transform="rotate(-14 129.3 948.2)" stroke-width="2.2"/>
<ellipse cx="129.6" cy="948.5" rx="12.0" ry="18.2" transform="rotate(-14 129.6 948.5)" fill="none" stroke-width="1.4"/>
<ellipse cx="130.0" cy="948.5" rx="9.0" ry="15.0" transform="rotate(-14 130.0 948.5)" stroke-width="2.2"/>
<ellipse cx="99.7" cy="957.8" rx="14.5" ry="21.3" transform="rotate(-14 99.7 957.8)" stroke-width="2.2"/>
<ellipse cx="100.0" cy="958.0" rx="11.5" ry="18.0" transform="rotate(-14 100.0 958.0)" fill="none" stroke-width="1.4"/>
<ellipse cx="100.5" cy="958.3" rx="9.0" ry="14.0" transform="rotate(-14 100.5 958.3)" stroke-width="2.2"/>
<ellipse cx="77.4" cy="964.6" rx="7.6" ry="9.6" transform="rotate(-10 77.4 964.6)" fill="#000" stroke="#000" stroke-width="1"/><ellipse cx="77.4" cy="964.6" rx="4.6" ry="6.0" transform="rotate(-10 77.4 964.6)" fill="none" stroke="#fff" stroke-width="1.1" stroke-dasharray="3,2"/>
<ellipse cx="564.9" cy="980.1" rx="8.6" ry="11.3" transform="rotate(-5 564.9 980.1)" stroke-width="3"/>
<ellipse cx="565.2" cy="980.1" rx="4.6" ry="6.8" transform="rotate(-5 565.2 980.1)" stroke-width="1.6"/>
<path d="M563,975 L567,985" fill="none" stroke-width="1.5"/>
<path d="M590,959 L607,956 L611,956.5 L620,956.5 L622,960 L620,964 L611,968.5 L596,981.5 L590,982 Z" stroke-width="1.9"/>
<path d="M611,956.5 L614,966 M611,957 L622,958 L620,964 L612,967 Z" fill="#000" stroke-width="1"/>
<path d="M597,958 Q604,966 600,980 M601,957.5 Q608,965 604,977 M605,957 Q611,964 608,973" fill="none" stroke-width="1.5"/>
<ellipse cx="590.2" cy="970.5" rx="7.9" ry="11.4" transform="rotate(-8 590.2 970.5)" stroke-width="2.2"/>
<ellipse cx="590.5" cy="970.5" rx="4.5" ry="6.8" transform="rotate(-8 590.5 970.5)" stroke-width="1.5"/>
<path d="M588,968 L593,973" fill="none" stroke-width="1.2"/>
<g transform="translate(638.5,952.0) rotate(-18.78)"><ellipse cx="0.0" cy="0" rx="3.5" ry="8.3" fill="none" stroke-width="2.0"/><ellipse cx="5.3" cy="0" rx="3.5" ry="8.3" fill="none" stroke-width="2.0"/><ellipse cx="10.6" cy="0" rx="3.5" ry="8.3" fill="none" stroke-width="2.0"/><ellipse cx="15.8" cy="0" rx="3.5" ry="8.3" fill="none" stroke-width="2.0"/><ellipse cx="21.1" cy="0" rx="3.5" ry="8.3" fill="none" stroke-width="2.0"/><ellipse cx="26.4" cy="0" rx="3.5" ry="8.3" fill="none" stroke-width="2.0"/></g>
<ellipse cx="682.5" cy="937.2" rx="7.2" ry="7.9" stroke-width="2.6"/>
<ellipse cx="682.5" cy="937.2" rx="3.5" ry="4.2" stroke-width="1.5"/>
<g transform="translate(699,930.6) rotate(-18.4)"><path d="M67,-11 L80,-11 A4,11 0 0 1 80,11 L67,11 Z" stroke-width="1.8"/><path d="M69,-11 A4,11 0 0 1 69,11" fill="none" stroke-width="1.4"/><path d="M72,-11 A4,11 0 0 1 72,11" fill="none" stroke-width="1.4"/><path d="M75,-11 A4,11 0 0 1 75,11" fill="none" stroke-width="1.4"/><path d="M78,-11 A4,11 0 0 1 78,11" fill="none" stroke-width="1.4"/><path d="M45,-15 L52,-17 L64,-15 L67,-10 L67,10 L64,14 L52,16 L45,14 Z" stroke-width="1.9"/><path d="M52,-17 L55,-8 L52,16 M55,-8 L67,-8 M55,6 L67,6" fill="none" stroke-width="1.3"/><path d="M26,-9 L46,-11 L46,11 L26,10 Z" stroke-width="1.9"/><path d="M0,-12 L28,-12 A5,12 0 0 1 28,12 L0,12 Z" stroke-width="1.9"/><path d="M6,-12 A5,12 0 0 1 6,12" fill="none" stroke-width="1.5"/><path d="M10,-12 A5,12 0 0 1 10,12" fill="none" stroke-width="1.5"/><path d="M14,-12 A5,12 0 0 1 14,12" fill="none" stroke-width="1.5"/><path d="M18,-12 A5,12 0 0 1 18,12" fill="none" stroke-width="1.5"/><path d="M22,-12 A5,12 0 0 1 22,12" fill="none" stroke-width="1.5"/><path d="M26,-12 A5,12 0 0 1 26,12" fill="none" stroke-width="1.5"/><ellipse cx="0" cy="0" rx="6.5" ry="11.5" stroke-width="2"/><ellipse cx="0.5" cy="0" rx="3.5" ry="6.5" stroke-width="1.5"/></g>
</g>
<g fill="none" stroke="#000" stroke-width="1.5">
<path d="M289.5,47 V75"/><path d="M234,87 H255 L282,104"/><path d="M232.5,123.75 H276 L287.5,132.5"/><path d="M211.25,162 L238.75,160.5"/><path d="M245,198.75 H276"/><path d="M447,66.25 H476"/><path d="M450,111.25 H475"/><path d="M452,142.5 H476"/><path d="M583.75,111 V127.5"/><path d="M672.5,95 V110"/><path d="M651,165 V205"/><path d="M689.5,218 V246"/><path d="M490,183.75 H507"/><path d="M516.25,245 L525,257.5 L526.25,275"/><path d="M540,240 L560,253.75 V320"/><path d="M607.5,230 V265"/><path d="M218,264 H240"/><path d="M236,316 H253"/><path d="M250,347 H291"/><path d="M258,379 L289,364"/><path d="M255,417 H292"/><path d="M383,381 V410"/><path d="M680,370 V390"/><path d="M617.5,387 V426"/><path d="M733.75,516 V562"/><path d="M673.75,547 V580"/><path d="M521,545 V587"/><path d="M468.75,576 V605"/><path d="M465,670 V698"/><path d="M534,646 H557.5"/><path d="M577.5,686 H565 L528.75,718.75"/><path d="M356,702 H371"/><path d="M747.8,690 V740"/><path d="M691.4,728 V755"/><path d="M679,803 H708"/><path d="M661.7,848 V864"/><path d="M597,746 V766"/><path d="M370,779 V820"/><path d="M330.6,812 V850"/><path d="M238.5,812 V855 L255,865"/><path d="M284.7,846 V857"/><path d="M198.6,849 V880"/><path d="M97,899 V937"/><path d="M433.4,893 V924"/><path d="M494,886 V935"/><path d="M135,968 V994"/><path d="M82.5,975 V1027"/><path d="M190,972 V1027"/><path d="M320.5,932 V955"/><path d="M272.5,945 V993"/><path d="M352.5,918.75 L369,933.75 V985"/><path d="M638.75,925 V941"/><path d="M680,947 V987"/><path d="M747,930 V954"/><path d="M610.5,970 V1017"/><path d="M563,990 V1051"/>
</g>
<g fill="none" stroke="#000" stroke-width="1.5" stroke-dasharray="7,4">
<path d="M535,150 L570,141.25"/><path d="M435,153 V222"/><path d="M475,157.5 L395,174 V207.5 L360,214"/><path d="M295.5,212 V243"/><path d="M437,238 L569,386 L600,380"/><path d="M425,418 H427.5 V480 L351.5,497.5 V642 L360,641"/><path d="M533.75,633.75 L697.5,596.25"/><path d="M640,621 V713 L633.6,715"/><path d="M530,748 L566,736"/><path d="M405.5,730 V817 L449,806.5"/><path d="M587,847 L594.5,845.5 V929.5 L546.5,949 V988"/>
</g>
<g font-family="'Liberation Sans', sans-serif" font-weight="bold" fill="#000">
<text x="242.10" y="47.00" font-size="15.13" textLength="89.01" lengthAdjust="spacingAndGlyphs">90092-10601</text><text x="144.10" y="92.50" font-size="15.13" textLength="90.27" lengthAdjust="spacingAndGlyphs">94511-00600</text><text x="183.35" y="123.50" font-size="19.07" textLength="48.52" lengthAdjust="spacingAndGlyphs">22728</text><text x="183.35" y="134.50" font-size="12.68" textLength="42.27" lengthAdjust="spacingAndGlyphs">GUIDE</text><text x="158.35" y="162.50" font-size="18.31" textLength="49.26" lengthAdjust="spacingAndGlyphs">22701</text><text x="159.60" y="173.75" font-size="13.08" textLength="44.80" lengthAdjust="spacingAndGlyphs">LEVER</text><text x="178.35" y="198.75" font-size="18.70" textLength="64.54" lengthAdjust="spacingAndGlyphs">22322A</text><text x="177.10" y="210.00" font-size="12.68" textLength="52.08" lengthAdjust="spacingAndGlyphs">SPRING</text><text x="478.35" y="66.25" font-size="17.66" textLength="52.81" lengthAdjust="spacingAndGlyphs">22160</text><text x="477.60" y="78.00" font-size="13.08" textLength="47.52" lengthAdjust="spacingAndGlyphs">SCREW</text><text x="474.60" y="112.50" font-size="19.41" textLength="51.06" lengthAdjust="spacingAndGlyphs">22119</text><text x="475.60" y="123.75" font-size="13.08" textLength="57.02" lengthAdjust="spacingAndGlyphs">WASHER</text><text x="475.60" y="145.00" font-size="18.31" textLength="51.06" lengthAdjust="spacingAndGlyphs">22119</text><text x="476.60" y="155.50" font-size="13.45" textLength="58.00" lengthAdjust="spacingAndGlyphs">WASHER</text><text x="557.10" y="99.50" font-size="17.66" textLength="55.57" lengthAdjust="spacingAndGlyphs">22712</text><text x="556.60" y="111.00" font-size="12.06" textLength="26.54" lengthAdjust="spacingAndGlyphs">NUT</text><text x="627.60" y="95.00" font-size="14.69" textLength="90.03" lengthAdjust="spacingAndGlyphs">90099-04946</text><text x="607.60" y="163.00" font-size="17.66" textLength="90.52" lengthAdjust="spacingAndGlyphs">90093-00803</text><text x="506.60" y="185.75" font-size="11.75" textLength="125.53" lengthAdjust="spacingAndGlyphs">22395-54010 (4)</text><text x="500.60" y="290.50" font-size="18.31" textLength="51.06" lengthAdjust="spacingAndGlyphs">22749</text><text x="500.60" y="302.50" font-size="12.06" textLength="55.57" lengthAdjust="spacingAndGlyphs">COLLAR</text><text x="584.60" y="279.50" font-size="19.07" textLength="51.08" lengthAdjust="spacingAndGlyphs">22776</text><text x="584.60" y="290.50" font-size="12.06" textLength="45.52" lengthAdjust="spacingAndGlyphs">SCREW</text><text x="647.60" y="260.50" font-size="18.26" textLength="92.79" lengthAdjust="spacingAndGlyphs">90099-05140</text><text x="538.35" y="335.00" font-size="18.31" textLength="64.28" lengthAdjust="spacingAndGlyphs">22776A</text><text x="539.10" y="346.25" font-size="13.08" textLength="35.61" lengthAdjust="spacingAndGlyphs">RING</text><text x="635.10" y="402.50" font-size="15.13" textLength="92.53" lengthAdjust="spacingAndGlyphs">90099-04576</text><text x="575.10" y="440.50" font-size="18.26" textLength="90.01" lengthAdjust="spacingAndGlyphs">90092-10601</text><text x="153.35" y="266.25" font-size="17.66" textLength="64.54" lengthAdjust="spacingAndGlyphs">22703A</text><text x="153.35" y="277.50" font-size="12.39" textLength="46.78" lengthAdjust="spacingAndGlyphs">COVER</text><text x="180.10" y="319.50" font-size="19.07" textLength="54.28" lengthAdjust="spacingAndGlyphs">22774</text><text x="180.10" y="330.50" font-size="12.06" textLength="50.52" lengthAdjust="spacingAndGlyphs">GASKET</text><text x="184.60" y="346.25" font-size="17.66" textLength="64.07" lengthAdjust="spacingAndGlyphs">22740A</text><text x="186.60" y="358.00" font-size="12.06" textLength="35.13" lengthAdjust="spacingAndGlyphs">RING</text><text x="194.10" y="382.00" font-size="18.70" textLength="64.59" lengthAdjust="spacingAndGlyphs">22378A</text><text x="195.10" y="392.00" font-size="11.27" textLength="56.55" lengthAdjust="spacingAndGlyphs">WASHER</text><text x="204.60" y="422.00" font-size="19.72" textLength="51.05" lengthAdjust="spacingAndGlyphs">22740</text><text x="204.60" y="433.20" font-size="12.73" textLength="45.01" lengthAdjust="spacingAndGlyphs">SHAFT</text><text x="357.60" y="369.50" font-size="20.47" textLength="52.06" lengthAdjust="spacingAndGlyphs">22726</text><text x="357.60" y="380.00" font-size="12.68" textLength="51.57" lengthAdjust="spacingAndGlyphs">SPRING</text><text x="51.85" y="499.50" font-size="16.68" textLength="5.15" lengthAdjust="spacingAndGlyphs" font-weight="normal">(</text><text x="56.10" y="500.25" font-size="14.69" textLength="45.06" lengthAdjust="spacingAndGlyphs" font-weight="normal">8010</text><text x="158.60" y="497.00" font-size="14.53" textLength="3.62" lengthAdjust="spacingAndGlyphs" font-weight="normal">)</text><text x="51.85" y="518.25" font-size="14.82" textLength="5.68" lengthAdjust="spacingAndGlyphs" font-weight="normal">(</text><text x="114.60" y="517.50" font-size="18.00" textLength="44.13" lengthAdjust="spacingAndGlyphs" font-weight="normal">8012</text><text x="156.60" y="516.00" font-size="16.68" textLength="7.56" lengthAdjust="spacingAndGlyphs" font-weight="normal">)</text><text x="709.60" y="503.00" font-size="16.90" textLength="48.54" lengthAdjust="spacingAndGlyphs">22751</text><text x="710.60" y="514.00" font-size="12.06" textLength="35.00" lengthAdjust="spacingAndGlyphs">WIRE</text><text x="630.60" y="541.00" font-size="14.98" textLength="92.05" lengthAdjust="spacingAndGlyphs">22172-54020</text><text x="497.60" y="531.25" font-size="17.66" textLength="51.06" lengthAdjust="spacingAndGlyphs">22369</text><text x="497.60" y="543.00" font-size="13.08" textLength="34.03" lengthAdjust="spacingAndGlyphs">SEAT</text><text x="443.35" y="562.50" font-size="17.66" textLength="51.31" lengthAdjust="spacingAndGlyphs">22317</text><text x="442.60" y="574.50" font-size="13.45" textLength="52.08" lengthAdjust="spacingAndGlyphs">SPRING</text><text x="432.10" y="657.50" font-size="17.66" textLength="65.07" lengthAdjust="spacingAndGlyphs">22314A</text><text x="432.10" y="669.00" font-size="12.68" textLength="51.57" lengthAdjust="spacingAndGlyphs">SPRING</text><text x="559.60" y="645.00" font-size="17.66" textLength="64.56" lengthAdjust="spacingAndGlyphs">22390A</text><text x="559.60" y="657.00" font-size="13.45" textLength="71.06" lengthAdjust="spacingAndGlyphs">SOLENOID</text><text x="579.60" y="692.50" font-size="15.13" textLength="92.05" lengthAdjust="spacingAndGlyphs">90099-14050</text><text x="721.60" y="677.50" font-size="15.13" textLength="64.56" lengthAdjust="spacingAndGlyphs">22128A</text><text x="721.60" y="689.50" font-size="12.68" textLength="35.03" lengthAdjust="spacingAndGlyphs">BOLT</text><text x="275.10" y="704.00" font-size="18.31" textLength="64.07" lengthAdjust="spacingAndGlyphs">22350A</text><text x="275.10" y="715.00" font-size="12.68" textLength="81.05" lengthAdjust="spacingAndGlyphs">GOVERNOR</text><text x="568.35" y="734.00" font-size="18.31" textLength="64.54" lengthAdjust="spacingAndGlyphs">22176A</text><text x="568.35" y="744.50" font-size="12.68" textLength="34.48" lengthAdjust="spacingAndGlyphs">RING</text><text x="645.60" y="726.00" font-size="15.75" textLength="91.03" lengthAdjust="spacingAndGlyphs">90201-08106</text><text x="708.60" y="801.75" font-size="18.00" textLength="51.83" lengthAdjust="spacingAndGlyphs">22176</text><text x="708.60" y="813.30" font-size="13.44" textLength="38.12" lengthAdjust="spacingAndGlyphs">PLUG</text><text x="613.60" y="875.75" font-size="13.38" textLength="124.78" lengthAdjust="spacingAndGlyphs">22395-58200 (4)</text><text x="340.60" y="766.00" font-size="19.78" textLength="63.04" lengthAdjust="spacingAndGlyphs">22101B</text><text x="341.60" y="777.00" font-size="13.45" textLength="35.08" lengthAdjust="spacingAndGlyphs">RING</text><text x="303.60" y="799.00" font-size="19.72" textLength="50.06" lengthAdjust="spacingAndGlyphs">22192</text><text x="303.60" y="811.00" font-size="14.08" textLength="43.06" lengthAdjust="spacingAndGlyphs">GUIDE</text><text x="213.35" y="800.00" font-size="18.70" textLength="50.80" lengthAdjust="spacingAndGlyphs">22143</text><text x="213.35" y="811.50" font-size="13.45" textLength="35.30" lengthAdjust="spacingAndGlyphs">SEAT</text><text x="258.60" y="833.50" font-size="19.41" textLength="50.05" lengthAdjust="spacingAndGlyphs">22182</text><text x="258.60" y="844.50" font-size="13.45" textLength="44.55" lengthAdjust="spacingAndGlyphs">PLATE</text><text x="172.85" y="838.40" font-size="19.72" textLength="49.77" lengthAdjust="spacingAndGlyphs">22144</text><text x="172.85" y="848.00" font-size="12.68" textLength="50.83" lengthAdjust="spacingAndGlyphs">SPRING</text><text x="69.60" y="886.00" font-size="18.31" textLength="51.05" lengthAdjust="spacingAndGlyphs">22163</text><text x="69.60" y="897.00" font-size="13.08" textLength="43.02" lengthAdjust="spacingAndGlyphs">PLATE</text><text x="407.60" y="938.50" font-size="19.07" textLength="50.57" lengthAdjust="spacingAndGlyphs">22192</text><text x="407.60" y="949.00" font-size="12.68" textLength="43.02" lengthAdjust="spacingAndGlyphs">GUIDE</text><text x="471.10" y="950.50" font-size="19.07" textLength="50.57" lengthAdjust="spacingAndGlyphs">22140</text><text x="471.10" y="961.00" font-size="12.68" textLength="39.65" lengthAdjust="spacingAndGlyphs">HEAD</text><text x="110.60" y="1011.00" font-size="19.07" textLength="53.57" lengthAdjust="spacingAndGlyphs">22162</text><text x="111.60" y="1022.50" font-size="13.45" textLength="42.80" lengthAdjust="spacingAndGlyphs">PLATE</text><text x="58.35" y="1044.00" font-size="19.72" textLength="52.06" lengthAdjust="spacingAndGlyphs">22179</text><text x="58.35" y="1056.00" font-size="14.08" textLength="35.84" lengthAdjust="spacingAndGlyphs">SHIM</text><text x="165.60" y="1043.00" font-size="19.07" textLength="51.02" lengthAdjust="spacingAndGlyphs">22145</text><text x="165.60" y="1054.50" font-size="14.08" textLength="35.03" lengthAdjust="spacingAndGlyphs">SEAT</text><text x="294.60" y="970.00" font-size="17.66" textLength="51.57" lengthAdjust="spacingAndGlyphs">22143</text><text x="294.60" y="982.00" font-size="13.45" textLength="34.78" lengthAdjust="spacingAndGlyphs">SEAT</text><text x="246.60" y="1008.00" font-size="18.31" textLength="49.54" lengthAdjust="spacingAndGlyphs">22144</text><text x="244.60" y="1020.50" font-size="14.98" textLength="51.57" lengthAdjust="spacingAndGlyphs">SPRING</text><text x="344.60" y="1002.50" font-size="19.41" textLength="50.83" lengthAdjust="spacingAndGlyphs">22182</text><text x="344.60" y="1014.50" font-size="13.45" textLength="43.55" lengthAdjust="spacingAndGlyphs">PLATE</text><text x="613.35" y="911.25" font-size="17.66" textLength="52.06" lengthAdjust="spacingAndGlyphs">22148</text><text x="612.60" y="923.00" font-size="13.08" textLength="52.83" lengthAdjust="spacingAndGlyphs">SPRING</text><text x="655.85" y="1002.00" font-size="18.70" textLength="49.28" lengthAdjust="spacingAndGlyphs">22141</text><text x="655.85" y="1013.75" font-size="13.08" textLength="34.78" lengthAdjust="spacingAndGlyphs">SEAT</text><text x="720.10" y="967.50" font-size="17.66" textLength="49.28" lengthAdjust="spacingAndGlyphs">22131</text><text x="720.60" y="980.00" font-size="13.45" textLength="59.07" lengthAdjust="spacingAndGlyphs">HOLDER</text><text x="585.10" y="1033.00" font-size="19.07" textLength="50.04" lengthAdjust="spacingAndGlyphs">22104</text><text x="586.10" y="1044.50" font-size="13.45" textLength="45.04" lengthAdjust="spacingAndGlyphs">VALVE</text><text x="538.35" y="1067.00" font-size="18.70" textLength="51.31" lengthAdjust="spacingAndGlyphs">22149</text><text x="538.35" y="1078.75" font-size="13.08" textLength="56.02" lengthAdjust="spacingAndGlyphs">GASKET</text><text x="712.60" y="1078.75" font-size="15.75" textLength="79.03" lengthAdjust="spacingAndGlyphs">MF 2160-H</text>
<g><path d="M16.9,483.9 L32.1,499.1 M32.1,483.9 L16.9,499.1" stroke="#000" stroke-width="1.3" fill="none"/><circle cx="24.5" cy="486.6" r="2.5"/><circle cx="24.5" cy="496.4" r="2.5"/><circle cx="19.6" cy="491.5" r="2.5"/><circle cx="29.4" cy="491.5" r="2.5"/></g><g><path d="M17.799999999999997,503.9 L33.0,519.1 M33.0,503.9 L17.799999999999997,519.1" stroke="#000" stroke-width="1.3" fill="none"/><circle cx="25.4" cy="506.6" r="2.5"/><circle cx="25.4" cy="516.4" r="2.5"/><circle cx="20.5" cy="511.5" r="2.5"/><circle cx="30.299999999999997" cy="511.5" r="2.5"/></g><text x="36" y="499.8" font-size="25" textLength="8" lengthAdjust="spacingAndGlyphs">1</text><text x="36.2" y="519.7" font-size="23.6" textLength="10.5" lengthAdjust="spacingAndGlyphs">2</text><path d="M14.6,524 H164.8" stroke="#000" stroke-width="2.4"/><path d="M101,495 H111.5 M102.5,513.2 H113" stroke="#000" stroke-width="1.8"/><g><path d="M502.44,264.94 L511.56,274.06 M511.56,264.94 L502.44,274.06" stroke="#000" stroke-width="0.78" fill="none"/><circle cx="507" cy="266.56" r="1.5"/><circle cx="507" cy="272.44" r="1.5"/><circle cx="504.06" cy="269.5" r="1.5"/><circle cx="509.94" cy="269.5" r="1.5"/></g><g><path d="M709.44,475.44 L718.56,484.56 M718.56,475.44 L709.44,484.56" stroke="#000" stroke-width="0.78" fill="none"/><circle cx="714" cy="477.06" r="1.5"/><circle cx="714" cy="482.94" r="1.5"/><circle cx="711.06" cy="480" r="1.5"/><circle cx="716.94" cy="480" r="1.5"/></g><text x="720.5" y="485.2" font-size="12.5" textLength="5" lengthAdjust="spacingAndGlyphs">1</text><text x="513.5" y="274.2" font-size="12.5" textLength="7" lengthAdjust="spacingAndGlyphs">2</text>
</g>
</svg>
</body></html>
